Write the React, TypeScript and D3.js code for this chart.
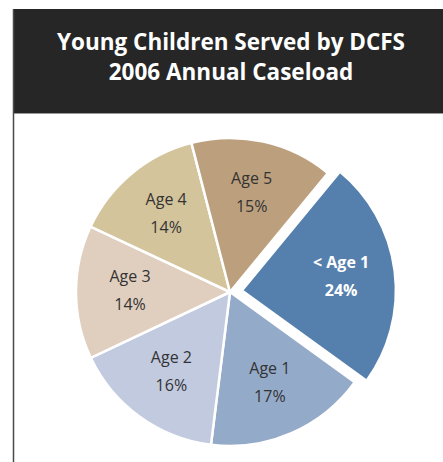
import React from "react";
import * as d3 from "d3";

const categories = ["< Age 1", "Age 1", "Age 2", "Age 3", "Age 4", "Age 5"];
const shares = [24, 17, 16, 14, 14, 15];
const colors = ["#5580ae", "#94aac9", "#c2cae0", "#e0cfbf", "#d3c49c", "#bca07e"];
const labelColors = ["#ffffff", "#333333", "#333333", "#333333", "#333333", "#333333"];
const explodedFlags = [true, false, false, false, false, false];
const titleLines = ["Young Children Served by DCFS", "2006 Annual Caseload"];

const W = 443;
const H = 462;

export default function App() {
  const cx = 230;
  const cy = 292;
  const R = 154;
  const startDeg = 39.5;
  const start = (startDeg * Math.PI) / 180;

  const pie = d3
    .pie<number>()
    .sort(null)
    .value((d) => d)
    .startAngle(start)
    .endAngle(start + 2 * Math.PI);
  const arcs = pie(shares);
  const arc = d3.arc<d3.PieArcDatum<number>>().innerRadius(0).outerRadius(R);
  const labelArc = d3.arc<d3.PieArcDatum<number>>().innerRadius(100).outerRadius(100);
  const explode = 12;

  return (
    <svg
      width={W}
      height={H}
      style={{ position: "absolute", left: 0, top: 0, background: "#fff" }}
      fontFamily="'Open Sans', 'Noto Sans', sans-serif"
    >
      <rect x={13} y={9} width={W - 13} height={104} fill="#262626" />
      <line x1={13} y1={113.5} x2={W} y2={113.5} stroke="#9a9a9a" strokeWidth={1} />
      <line x1={13.5} y1={9} x2={13.5} y2={H} stroke="#4a4a4a" strokeWidth={1.5} />
      {titleLines.map((t, i) => (
        <text
          key={t}
          x={231}
          y={50 + i * 30}
          textAnchor="middle"
          fill="#ffffff"
          fontWeight={700}
          fontSize={22.5}
        >
          {t}
        </text>
      ))}
      <g transform={`translate(${cx},${cy})`}>
        {arcs.map((a, i) => {
          const mid = (a.startAngle + a.endAngle) / 2;
          const off = explodedFlags[i] ? explode : 0;
          const dx = off * Math.sin(mid);
          const dy = -off * Math.cos(mid);
          const [lx, ly] = labelArc.centroid(a);
          return (
            <g key={categories[i]} transform={`translate(${dx},${dy})`}>
              <path d={arc(a) || ""} fill={colors[i]} stroke="#ffffff" strokeWidth={2.5} strokeLinejoin="round" />
              <text
                x={lx}
                y={ly - 10}
                textAnchor="middle"
                fontSize={16}
                fill={labelColors[i]}
                fontWeight={explodedFlags[i] ? 700 : 400}
              >
                {categories[i]}
              </text>
              <text
                x={lx}
                y={ly + 18}
                textAnchor="middle"
                fontSize={16}
                fill={labelColors[i]}
                fontWeight={explodedFlags[i] ? 700 : 400}
              >
                {shares[i]}%
              </text>
            </g>
          );
        })}
      </g>
    </svg>
  );
}
